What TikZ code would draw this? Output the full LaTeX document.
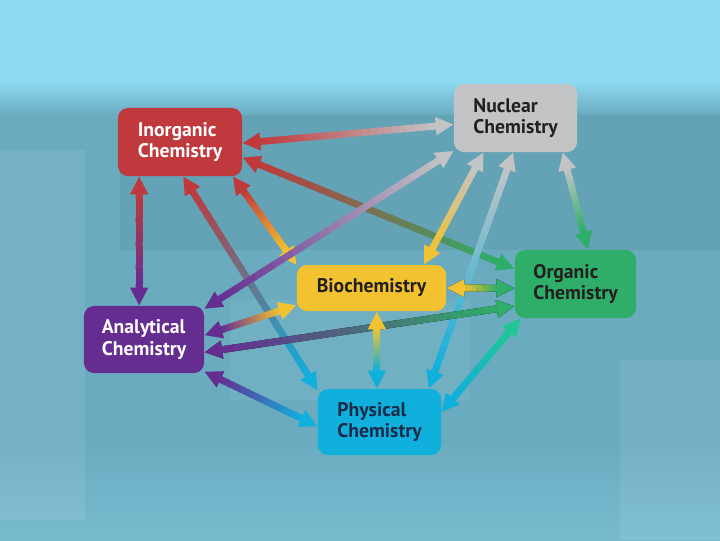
\documentclass[tikz,border=0pt]{standalone}
\usepackage{fontspec}
\setmainfont{PT Sans}
\usepackage{tikz}
\usetikzlibrary{arrows.meta,calc}

\definecolor{inorgred}{HTML}{C0393C}
\definecolor{nucgray}{HTML}{C3C4C6}
\definecolor{orggreen}{HTML}{2EAE68}
\definecolor{bioyellow}{HTML}{F2C230}
\definecolor{anapurple}{HTML}{662D91}
\definecolor{physcyan}{HTML}{0FB0DC}
\definecolor{inktext}{HTML}{231F20}
\definecolor{physink}{HTML}{1C2B4A}
\definecolor{skytop}{HTML}{8EDCF3}
\definecolor{skymid}{HTML}{6AABC0}
\definecolor{skylow}{HTML}{78BBCF}

\tikzset{
  field/.style={rounded corners=0.25cm, inner sep=0pt, align=left,
    font=\bfseries\fontsize{14}{15.5}\selectfont},
  link/.style={line width=0.17cm, line cap=butt},
  linktip/.style={line width=0.17cm, draw=#1,
    -{Triangle[length=0.45cm,width=0.42cm]}},
}

% two-headed arrow whose colour runs from #3 (at #1) to #4 (at #2)
\newcommand{\gradlink}[4]{%
  \coordinate (ls) at (#1);
  \coordinate (le) at (#2);
  \draw[linktip=#3] ($(ls)!0.5cm!(le)$) -- (ls);
  \draw[linktip=#4] ($(le)!0.5cm!(ls)$) -- (le);
  \coordinate (lp) at ($(ls)!0.44cm!(le)$);
  \coordinate (lq) at ($(le)!0.44cm!(ls)$);
  \foreach \i in {0,...,23}{
    \pgfmathtruncatemacro\pc{100-(\i+0.5)*100/24}
    \pgfmathsetmacro\ta{\i/24}
    \pgfmathsetmacro\tb{min(1,(\i+1.3)/24)}
    \draw[link, color=#3!\pc!#4] ($(lp)!\ta!(lq)$) -- ($(lp)!\tb!(lq)$);
  }}

% black edge under a link
\newcommand{\darklink}[2]{%
  \draw[line width=0.17cm, {Triangle[length=0.45cm,width=0.42cm]}-{Triangle[length=0.45cm,width=0.42cm]}, yshift=-0.07cm] (#1) -- (#2);}

\begin{document}
\begin{tikzpicture}[x=0.025cm,y=-0.025cm]
    % Background
    \fill[skymid] (0,0) rectangle (720,540);
    \fill[skytop] (0,0) rectangle (720,80);
    \shade[top color=skytop, bottom color=skymid] (0,80) rectangle (720,115);
    \shade[top color=skymid, bottom color=skylow] (0,440) rectangle (720,540);
    \fill[white, opacity=0.08] (0,150) rectangle (85,520);
    \fill[black, opacity=0.05] (120,115) rectangle (720,250);
    \fill[white, opacity=0.05] (230,300) rectangle (470,400);
    \fill[white, opacity=0.07] (620,360) rectangle (720,540);
    \useasboundingbox (0,0) rectangle (720,540);

    % Fields
    \node[field, fill=inorgred, text=white, minimum width=3.1cm, minimum height=1.7cm]
      (inorg) at (180,142) {Inorganic\\Chemistry};
    \node[field, fill=nucgray, text=inktext, minimum width=3.075cm, minimum height=1.7cm]
      (nuclear) at (515.5,118) {Nuclear\\Chemistry};
    \node[field, fill=orggreen, text=inktext, minimum width=3.025cm, minimum height=1.7cm]
      (organic) at (575.5,284) {Organic\\Chemistry};
    \node[field, fill=bioyellow, text=inktext, minimum width=3.725cm, minimum height=1.15cm]
      (biochem) at (371.5,288) {Biochemistry};
    \node[field, fill=anapurple, text=white, minimum width=3cm, minimum height=1.675cm]
      (analyt) at (144,339.5) {Analytical\\Chemistry};
    \node[field, fill=physcyan, text=physink, minimum width=3.075cm, minimum height=1.65cm]
      (phys) at (379.5,422) {Physical\\Chemistry};

    % From Inorganic
    \gradlink{inorg.-1}{nuclear.186}{inorgred}{nucgray}
    \gradlink{inorg.-14}{organic.166}{inorgred}{orggreen}
    \gradlink{inorg.-140}{inorg.-140 |- analyt.north}{inorgred}{anapurple}
    \gradlink{inorg.-85}{phys.153}{inorgred}{physcyan}
    \gradlink{inorg.-33}{biochem.163}{inorgred}{bioyellow}

    % From Nuclear
    \gradlink{nuclear.-152}{analyt.27}{nucgray}{anapurple}
    \gradlink{nuclear.-133}{biochem.24}{nucgray}{bioyellow}
    \gradlink{nuclear.-94}{phys.34}{nucgray}{physcyan}
    \gradlink{nuclear.-36}{organic.70}{nucgray}{orggreen}

    % From Organic
    \darklink{organic.184}{biochem.0}
    \gradlink{organic.184}{biochem.0}{orggreen}{bioyellow}
    \darklink{organic.-160}{analyt.-12}
    \gradlink{organic.-160}{analyt.-12}{orggreen}{anapurple}
    \gradlink{organic.-148}{phys.9}{orggreen!70!cyan}{physcyan}

    % The rest
    \gradlink{biochem.-167}{analyt.4}{bioyellow}{anapurple}
    \gradlink{biochem.-77}{biochem.-77 |- phys.north}{bioyellow}{physcyan}
    \gradlink{analyt.-28}{phys.184}{anapurple}{physcyan}
\end{tikzpicture}
\end{document}
